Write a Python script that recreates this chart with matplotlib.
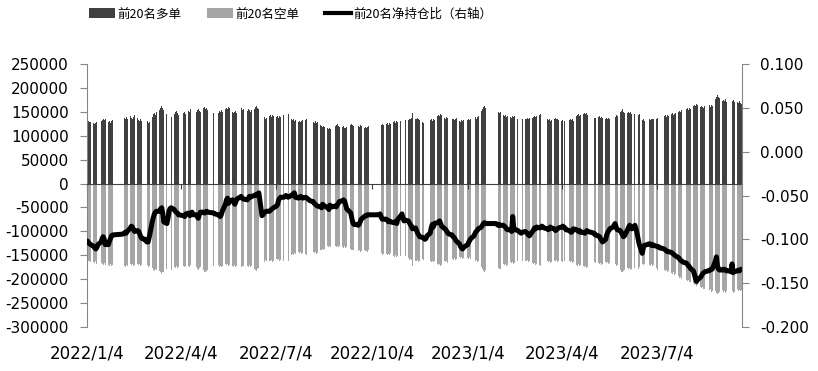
import numpy as np
import pandas as pd
import matplotlib
matplotlib.use("Agg")
import matplotlib.pyplot as plt
import matplotlib.dates as mdates
from matplotlib.patches import Patch
from matplotlib.lines import Line2D
from matplotlib.ticker import FuncFormatter, MultipleLocator
from matplotlib.transforms import blended_transform_factory

# exchange closures (weekdays) inside the plotted range
holidays = [
    "2022-01-31", "2022-02-01", "2022-02-02", "2022-02-03", "2022-02-04",
    "2022-04-04", "2022-04-05", "2022-05-02", "2022-05-03", "2022-05-04",
    "2022-06-03", "2022-09-12", "2022-10-03", "2022-10-04", "2022-10-05",
    "2022-10-06", "2022-10-07",
    "2023-01-02", "2023-01-23", "2023-01-24", "2023-01-25", "2023-01-26",
    "2023-01-27", "2023-04-05", "2023-05-01", "2023-05-02", "2023-05-03",
    "2023-06-22", "2023-06-23",
]

# top-20 long positions, thousands of lots, one row per trading week
long_weeks = [
    [130, 131, 128, 129],
    [126, 125, 127, 129, 131],
    [130, 133, 135, 132, 136],
    [128, 130, 127, 131, 133],
    [134, 137, 135, 139, 136],
    [141, 138, 136, 140, 143],
    [137, 133, 131, 135, 130],
    [131, 128, 130, 126, 129],
    [140, 145, 147, 143, 150],
    [154, 158, 162, 157, 153],
    [145, 141, 139, 143, 140],
    [146, 149, 151, 147, 144],
    [147, 150, 146],
    [152, 149, 155, 150, 147],
    [150, 153, 156, 151, 149],
    [157, 160, 155, 158, 154],
    [148, 150],
    [147, 151, 149, 153, 150],
    [155, 158, 156, 160, 157],
    [150, 147, 149, 152, 148],
    [154, 157, 153, 156],
    [151, 155, 153, 150, 154],
    [156, 160, 163, 158, 155],
    [138, 136, 139, 135, 137],
    [141, 143, 140, 144, 142],
    [139, 141, 138, 142, 140],
    [144, 147, 143, 146, 145],
    [134, 132, 135, 131, 133],
    [129, 131, 128, 130, 133],
    [133, 135, 132, 130, 134],
    [129, 127, 130, 126, 128],
    [122, 120, 118, 121, 119],
    [116, 114, 117, 115, 113],
    [120, 122, 124, 121, 119],
    [118, 120, 117, 116, 119],
    [122, 125, 123, 121],
    [119, 121, 118, 122, 120],
    [117, 119, 116, 118, 120],
    [121, 124, 122, 125, 123],
    [124, 126, 123, 127, 125],
    [128, 130, 127, 131, 129],
    [131, 134, 132, 135, 133],
    [133, 136, 134, 137, 148],
    [136, 134, 137, 135, 133],
    [129, 127, 130, 128, 131],
    [132, 134, 131, 135, 133],
    [141, 144, 142, 145, 143],
    [138, 136, 139, 137, 135],
    [134, 136, 133, 135, 137],
    [131, 129, 132, 130, 133],
    [132, 135, 133, 136],
    [137, 139, 136, 140, 142],
    [152, 156, 160, 162, 158],
    [151, 148, 150, 147, 149],
    [143, 141, 144, 140, 142],
    [140, 138, 141, 139, 142],
    [136, 138, 135, 137, 134],
    [136, 134, 137, 135, 138],
    [138, 140, 142, 139, 141],
    [143, 146, 144, 145, 142],
    [134, 132, 135, 131, 133],
    [135, 137, 134, 136, 133],
    [131, 133, 130, 132],
    [133, 135, 132, 134, 130],
    [141, 143, 145, 142, 144],
    [146, 148, 145, 147, 144],
    [137, 138],
    [139, 141, 138, 140, 137],
    [136, 138, 134, 137, 135],
    [139, 142, 140, 143, 141],
    [149, 152, 156, 150, 148],
    [148, 150, 147, 149, 146],
    [145, 147, 144, 143, 146],
    [132, 134, 131],
    [134, 133, 136, 135, 134],
    [136, 138, 135, 137, 139],
    [141, 143, 140, 144, 142],
    [145, 147, 144, 146, 148],
    [149, 152, 150, 153, 151],
    [155, 157, 154, 158, 156],
    [162, 165, 163, 166, 164],
    [160, 163, 161, 158, 162],
    [162, 164, 161, 165, 163],
    [176, 180, 186, 182, 178],
    [172, 175, 173, 176, 171],
    [173, 176, 172, 175, 170],
    [171, 168, 172, 169, 166],
]

# top-20 short positions, thousands of lots
short_weeks = [
    [-160, -163, -161, -164],
    [-165, -167, -163, -168, -166],
    [-166, -169, -171, -167, -170],
    [-170, -173, -169, -172, -171],
    [-170, -173, -175, -171, -172],
    [-168, -171, -169, -172, -170],
    [-169, -171, -168, -172, -170],
    [-171, -173, -170, -174, -172],
    [-177, -180, -182, -179, -181],
    [-183, -186, -189, -185, -184],
    [-179, -181, -178, -182, -180],
    [-174, -176, -173, -177, -175],
    [-172, -174, -173],
    [-172, -175, -171, -174, -173],
    [-175, -178, -180, -176, -174],
    [-181, -184, -186, -182, -180],
    [-172, -174],
    [-171, -174, -172, -175, -173],
    [-169, -171, -168, -172, -170],
    [-172, -174, -171, -175, -173],
    [-171, -174, -172, -173],
    [-172, -174, -171, -175, -173],
    [-178, -181, -183, -179, -177],
    [-163, -161, -164, -160, -162],
    [-161, -163, -160, -164, -162],
    [-158, -160, -157, -161, -159],
    [-161, -163, -160, -164, -162],
    [-149, -147, -150, -146, -148],
    [-144, -146, -143, -147, -145],
    [-147, -149, -146, -150, -148],
    [-144, -146, -143, -147, -145],
    [-138, -140, -136, -139, -137],
    [-131, -133, -130, -132, -129],
    [-130, -132, -131, -133, -130],
    [-132, -134, -131, -135, -133],
    [-137, -139, -138, -140],
    [-140, -142, -139, -143, -141],
    [-140, -142, -141, -143, -139],
    [-147, -149, -146, -150, -148],
    [-147, -149, -148, -150, -146],
    [-151, -153, -150, -154, -152],
    [-151, -153, -150, -154, -152],
    [-156, -159, -157, -160, -172],
    [-161, -163, -160, -164, -162],
    [-158, -160, -157, -161, -159],
    [-161, -164, -162, -165, -163],
    [-168, -171, -169, -172, -170],
    [-163, -165, -162, -166, -164],
    [-157, -159, -156, -160, -158],
    [-154, -156, -153, -157, -155],
    [-155, -157, -154, -158],
    [-161, -163, -160, -164, -162],
    [-175, -179, -182, -184, -180],
    [-177, -180, -176, -179, -178],
    [-169, -171, -168, -172, -170],
    [-165, -167, -164, -168, -166],
    [-161, -163, -160, -164, -162],
    [-161, -163, -160, -164, -162],
    [-167, -169, -166, -170, -168],
    [-170, -172, -169, -173, -171],
    [-163, -165, -162, -166, -164],
    [-161, -163, -160, -164, -162],
    [-163, -165, -162, -166],
    [-163, -165, -162, -166, -164],
    [-170, -172, -169, -173, -171],
    [-173, -175, -172, -176, -174],
    [-165, -167],
    [-167, -169, -166, -170, -168],
    [-165, -167, -164, -168, -166],
    [-170, -172, -169, -173, -171],
    [-181, -184, -186, -182, -180],
    [-177, -179, -176, -180, -178],
    [-177, -179, -176, -178, -175],
    [-168, -170, -169],
    [-170, -172, -169, -173, -171],
    [-177, -180, -178, -181, -179],
    [-181, -183, -180, -184, -182],
    [-187, -189, -186, -191, -190],
    [-194, -197, -195, -199, -198],
    [-201, -204, -202, -206, -205],
    [-209, -212, -210, -215, -213],
    [-216, -219, -217, -221, -220],
    [-220, -223, -221, -226, -224],
    [-224, -228, -231, -229, -226],
    [-222, -226, -224, -228, -225],
    [-223, -227, -224, -228, -226],
    [-220, -224, -222, -225, -223],
]

# net position ratio of the top 20 (right axis)
ratio_weeks = [
    [-0.102, -0.104, -0.105, -0.106],
    [-0.108, -0.110, -0.111, -0.109, -0.106],
    [-0.103, -0.099, -0.097, -0.100, -0.106],
    [-0.106, -0.102, -0.099, -0.096, -0.095],
    [-0.094, -0.093, -0.092, -0.093, -0.091],
    [-0.087, -0.085, -0.086, -0.089, -0.091],
    [-0.090, -0.091, -0.094, -0.097, -0.099],
    [-0.100, -0.102, -0.103, -0.103, -0.098],
    [-0.080, -0.075, -0.071, -0.069, -0.068],
    [-0.068, -0.065, -0.064, -0.070, -0.080],
    [-0.082, -0.076, -0.068, -0.065, -0.064],
    [-0.066, -0.068, -0.069, -0.070, -0.072],
    [-0.073, -0.074, -0.071],
    [-0.070, -0.073, -0.071, -0.069, -0.072],
    [-0.072, -0.074, -0.076, -0.072, -0.069],
    [-0.069, -0.070, -0.069, -0.068, -0.069],
    [-0.070, -0.071],
    [-0.072, -0.073, -0.074, -0.072, -0.068],
    [-0.060, -0.055, -0.053, -0.059, -0.056],
    [-0.055, -0.058, -0.060, -0.057, -0.054],
    [-0.052, -0.051, -0.053, -0.054],
    [-0.055, -0.053, -0.051, -0.052, -0.051],
    [-0.050, -0.049, -0.050, -0.048, -0.047],
    [-0.073, -0.072, -0.070, -0.069, -0.068],
    [-0.068, -0.067, -0.066, -0.065, -0.064],
    [-0.062, -0.060, -0.055, -0.053, -0.052],
    [-0.052, -0.051, -0.050, -0.051, -0.052],
    [-0.050, -0.049, -0.048, -0.047, -0.052],
    [-0.053, -0.052, -0.051, -0.052, -0.053],
    [-0.052, -0.053, -0.054, -0.055, -0.056],
    [-0.057, -0.059, -0.060, -0.061, -0.062],
    [-0.063, -0.064, -0.060, -0.061, -0.062],
    [-0.064, -0.066, -0.061, -0.062, -0.063],
    [-0.062, -0.063, -0.061, -0.059, -0.057],
    [-0.056, -0.055, -0.056, -0.060, -0.065],
    [-0.070, -0.076, -0.081, -0.083],
    [-0.083, -0.084, -0.083, -0.080, -0.077],
    [-0.074, -0.073, -0.073, -0.072, -0.072],
    [-0.072, -0.071, -0.074, -0.077, -0.077],
    [-0.077, -0.078, -0.080, -0.079, -0.080],
    [-0.081, -0.080, -0.081, -0.082, -0.077],
    [-0.073, -0.071, -0.076, -0.079, -0.078],
    [-0.079, -0.081, -0.083, -0.085, -0.088],
    [-0.087, -0.090, -0.093, -0.095, -0.097],
    [-0.098, -0.099, -0.100, -0.099, -0.096],
    [-0.093, -0.087, -0.083, -0.086, -0.082],
    [-0.081, -0.080, -0.079, -0.082, -0.085],
    [-0.088, -0.089, -0.091, -0.093, -0.094],
    [-0.095, -0.097, -0.098, -0.100, -0.102],
    [-0.105, -0.108, -0.110, -0.111, -0.109],
    [-0.106, -0.103, -0.101, -0.099],
    [-0.096, -0.093, -0.091, -0.090, -0.088],
    [-0.086, -0.084, -0.082, -0.081, -0.082],
    [-0.082, -0.083, -0.084, -0.083, -0.084],
    [-0.084, -0.085, -0.086, -0.088, -0.089],
    [-0.089, -0.091, -0.074, -0.087, -0.089],
    [-0.090, -0.091, -0.092, -0.093, -0.092],
    [-0.091, -0.092, -0.093, -0.095, -0.096],
    [-0.091, -0.089, -0.087, -0.088, -0.086],
    [-0.087, -0.086, -0.085, -0.086, -0.087],
    [-0.088, -0.089, -0.088, -0.086, -0.087],
    [-0.088, -0.090, -0.089, -0.088, -0.087],
    [-0.086, -0.085, -0.087, -0.089],
    [-0.090, -0.091, -0.092, -0.091, -0.088],
    [-0.089, -0.090, -0.091, -0.090, -0.092],
    [-0.092, -0.093, -0.092, -0.090, -0.091],
    [-0.093, -0.095],
    [-0.096, -0.097, -0.099, -0.101, -0.103],
    [-0.100, -0.095, -0.092, -0.090, -0.088],
    [-0.086, -0.084, -0.082, -0.086, -0.089],
    [-0.090, -0.092, -0.095, -0.097, -0.096],
    [-0.089, -0.086, -0.084, -0.086, -0.088],
    [-0.084, -0.088, -0.093, -0.099, -0.105],
    [-0.116, -0.110, -0.107],
    [-0.105, -0.106, -0.107, -0.106, -0.107],
    [-0.108, -0.108, -0.109, -0.110, -0.110],
    [-0.111, -0.112, -0.113, -0.114, -0.114],
    [-0.115, -0.116, -0.117, -0.118, -0.119],
    [-0.121, -0.123, -0.124, -0.125, -0.126],
    [-0.127, -0.128, -0.130, -0.131, -0.133],
    [-0.136, -0.140, -0.145, -0.148, -0.146],
    [-0.143, -0.141, -0.139, -0.138, -0.137],
    [-0.136, -0.136, -0.135, -0.134, -0.134],
    [-0.125, -0.120, -0.130, -0.134, -0.135],
    [-0.135, -0.134, -0.135, -0.135, -0.136],
    [-0.136, -0.137, -0.128, -0.138, -0.137],
    [-0.136, -0.135, -0.136, -0.135, -0.134],
]

tick_dates = ["2022-01-04", "2022-04-04", "2022-07-04", "2022-10-04",
              "2023-01-04", "2023-04-04", "2023-07-04"]
tick_labels = ["2022/1/4", "2022/4/4", "2022/7/4", "2022/10/4",
               "2023/1/4", "2023/4/4", "2023/7/4"]
legend_labels = ["前20名多单", "前20名空单", "前20名净持仓比（右轴）"]

days = pd.bdate_range("2022-01-04", "2023-09-22")
days = days[~days.isin(pd.to_datetime(holidays))]

long_vals = np.array(sum(long_weeks, [])) * 1000
short_vals = np.array(sum(short_weeks, [])) * 1000
ratio_vals = np.array(sum(ratio_weeks, []))
assert len(long_vals) == len(short_vals) == len(ratio_vals) == len(days), \
    (len(long_vals), len(short_vals), len(ratio_vals), len(days))

# Excel-style date axis: each bar sits in the middle of its day slot
x = mdates.date2num(days.to_pydatetime()) + 0.5

W, H = 818, 371
fig = plt.figure(figsize=(W / 100, H / 100), dpi=100)
ax = fig.add_axes([87 / W, 1 - 327 / H, (742 - 87) / W, (327 - 64) / H])

ax.bar(x, long_vals, width=0.85, color="#404040", linewidth=0)
ax.bar(x, short_vals, width=0.85, color="#A6A6A6", linewidth=0)

ax.set_xlim(mdates.date2num(pd.Timestamp("2022-01-04")),
            mdates.date2num(pd.Timestamp("2023-09-23")))
ax.set_ylim(-300000, 250000)
ax.yaxis.set_major_locator(MultipleLocator(50000))
ax.yaxis.set_major_formatter(FuncFormatter(lambda v, p: f"{int(round(v))}"))

axis_grey = "#868686"
for s in ("top", "right"):
    ax.spines[s].set_visible(False)
ax.spines["left"].set_color(axis_grey)
ax.spines["bottom"].set_position(("data", 0))
ax.spines["bottom"].set_color("#404040")
ax.spines["bottom"].set_zorder(3)

tick_nums = mdates.date2num(pd.to_datetime(tick_dates).to_pydatetime())
ax.set_xticks(tick_nums)
ax.tick_params(axis="x", direction="out", length=3.5, width=0.8,
               color="#404040", labelbottom=False)
ax.tick_params(axis="y", direction="out", length=5, width=0.8,
               color=axis_grey, labelsize=11, pad=8)

# date labels sit below the plot, not on the zero line
trans = blended_transform_factory(ax.transData, ax.transAxes)
for t, lab in zip(tick_nums, tick_labels):
    ax.text(t, -0.10, lab, ha="center", va="center", fontsize=12,
            transform=trans)

ax2 = ax.twinx()
ax2.plot(x, ratio_vals, color="black", lw=3.6, solid_joinstyle="round",
         solid_capstyle="round")
ax2.set_ylim(-0.2, 0.1)
ax2.yaxis.set_major_locator(MultipleLocator(0.05))
ax2.yaxis.set_major_formatter(
    FuncFormatter(lambda v, p: f"{round(v, 3) + 0.0:.3f}"))
for s in ("top", "left", "bottom"):
    ax2.spines[s].set_visible(False)
ax2.spines["right"].set_color(axis_grey)
ax2.tick_params(axis="y", direction="out", length=5, width=0.8,
                color=axis_grey, labelsize=11, pad=8)

handles = [Patch(facecolor="#404040", edgecolor="none"),
           Patch(facecolor="#A6A6A6", edgecolor="none"),
           Line2D([], [], color="black", lw=3)]
fig.legend(handles, legend_labels, loc="center left",
           bbox_to_anchor=(89 / W, 1 - 14 / H), ncol=3, frameon=False,
           prop={"family": ["Noto Sans CJK SC", "DejaVu Sans"], "size": 9},
           handlelength=2.1, handleheight=0.85, handletextpad=0.2,
           columnspacing=2.0, borderpad=0, borderaxespad=0)

fig.savefig("out.png", dpi=100)
